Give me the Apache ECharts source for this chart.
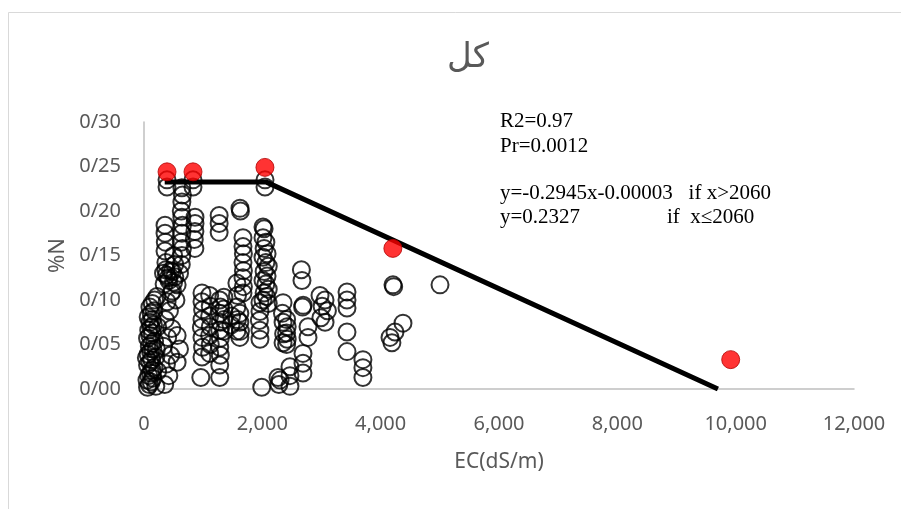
<!DOCTYPE html>
<html>
<head>
<meta charset="utf-8">
<script src="https://cdn.jsdelivr.net/npm/echarts@6/dist/echarts.min.js"></script>
<style>
  html, body { margin: 0; padding: 0; background: #fff; }
  #chart { width: 901px; height: 509px; }
</style>
</head>
<body>
<div id="chart"></div>
<script>
// [EC, %N] samples, open circles
const openSamples = [
  [60,0.002],[90,0.005],[120,0.008],[150,0.012],[80,0.015],[110,0.018],[140,0.021],[170,0.024],
  [60,0.027],[100,0.030],[130,0.033],[200,0.036],[70,0.039],[110,0.042],[150,0.045],[90,0.048],
  [130,0.051],[180,0.054],[60,0.057],[100,0.060],[140,0.063],[80,0.066],[120,0.069],[160,0.072],
  [100,0.075],[140,0.078],[70,0.081],[120,0.085],[170,0.088],[100,0.092],[140,0.096],[180,0.100],
  [220,0.104],[200,0.003],[230,0.020],[210,0.045],[40,0.035],[50,0.010],[230,0.070],
  [350,0.005],[420,0.015],[380,0.028],[450,0.038],[330,0.048],[400,0.058],[470,0.068],[360,0.078],
  [430,0.088],[390,0.098],[460,0.108],[340,0.118],[410,0.125],[480,0.132],[560,0.030],[600,0.045],
  [560,0.060],[389,0.235],[389,0.227],[355,0.184],[355,0.175],[360,0.165],[355,0.155],[370,0.142],
  [370,0.134],[330,0.130],[380,0.128],[450,0.133],[520,0.126],[600,0.130],[420,0.122],[500,0.120],
  [500,0.150],[520,0.140],[480,0.110],[540,0.100],[560,0.117],
  [640,0.226],[650,0.218],[640,0.210],[630,0.200],[640,0.193],[650,0.184],[640,0.175],[630,0.165],
  [650,0.158],[640,0.150],[630,0.140],[828,0.235],[828,0.227],[862,0.193],[862,0.186],[860,0.177],
  [850,0.168],[860,0.158],
  [980,0.108],[980,0.098],[990,0.089],[980,0.078],[970,0.069],[980,0.058],[990,0.047],[980,0.036],
  [960,0.013],[1110,0.105],[1120,0.093],[1110,0.082],[1120,0.070],[1110,0.060],[1120,0.050],[1110,0.040],
  [1280,0.100],[1290,0.092],[1280,0.085],[1290,0.075],[1280,0.066],[1290,0.057],[1280,0.047],[1290,0.038],
  [1280,0.027],[1280,0.013],[1270,0.195],[1270,0.186],[1270,0.176],[1350,0.103],[1350,0.090],[1350,0.078],
  [1350,0.065],[1480,0.082],[1470,0.072],
  [1570,0.119],[1580,0.105],[1570,0.092],[1580,0.078],[1570,0.065],[1622,0.203],[1630,0.200],
  [1620,0.085],[1620,0.075],[1630,0.065],[1620,0.058],[1673,0.170],[1673,0.160],[1680,0.152],[1673,0.142],
  [1680,0.133],[1673,0.125],[1680,0.115],[1673,0.108],
  [1960,0.097],[1960,0.087],[1950,0.077],[1960,0.066],[1960,0.056],[2045,0.235],[2045,0.227],[2011,0.182],
  [2030,0.180],[2011,0.170],[2060,0.165],[2030,0.158],[2080,0.152],[2011,0.148],[2060,0.142],[2100,0.138],
  [2030,0.132],[2080,0.127],[2011,0.122],[2060,0.118],[2100,0.112],[2030,0.108],[2070,0.104],[2011,0.100],
  [2100,0.096],[1990,0.002],
  [2350,0.097],[2340,0.085],[2350,0.075],[2360,0.062],[2350,0.052],[2410,0.078],[2420,0.070],[2410,0.063],
  [2420,0.056],[2410,0.050],[2265,0.013],[2280,0.005],[2300,0.010],[2467,0.025],[2467,0.015],[2467,0.003],
  [2660,0.134],[2670,0.122],[2680,0.092],[2690,0.094],[2772,0.070],[2772,0.058],[2687,0.040],[2687,0.029],
  [2687,0.018],[2975,0.105],[3060,0.100],[3010,0.093],[3100,0.088],[2990,0.080],[3060,0.075],
  [3431,0.109],[3431,0.100],[3431,0.091],[3431,0.064],[3431,0.042],[3700,0.033],[3700,0.024],[3700,0.013],
  [4208,0.117],[4220,0.115],[4377,0.074],[4242,0.064],[4158,0.058],[4190,0.052],[5003,0.117]
];

// boundary points (red)
const redSamples = [[389,0.244],[828,0.244],[2044,0.249],[4206,0.158],[9916,0.033]];

// piecewise fit: flat 0.2327 up to 2060, then decline
const fitLine = [[350,0.2327],[2060,0.2327],[9700,0]];

const xTicks = { min: 0, max: 12000, step: 2000 };
const yTicks = { min: 0, max: 0.3, step: 0.05 };

const notes = [
  { text: "R2=0.97", x: 500, y: 111 },
  { text: "Pr=0.0012", x: 500, y: 136 },
  { text: "y=-0.2945x-0.00003   if x>2060", x: 500, y: 183 },
  { text: "y=0.2327", x: 500, y: 207 },
  { text: "if  x≤2060", x: 667, y: 207 }
];

let myChart = echarts.init(document.getElementById("chart"));
let option = {
  backgroundColor: "#fff",
  animation: false,
  title: {
    text: "کل",
    left: 463,
    top: 36,
    textAlign: "center",
    textStyle: { fontFamily: "DejaVu Sans", fontSize: 34, fontWeight: "normal", color: "#595959" }
  },
  grid: { left: 144, right: 47, top: 122, bottom: 120 },
  xAxis: {
    type: "value",
    min: xTicks.min, max: xTicks.max, interval: xTicks.step,
    name: "EC(dS/m)",
    nameLocation: "middle",
    nameGap: 63,
    nameTextStyle: { fontFamily: "Noto Sans", fontSize: 21, color: "#595959" },
    axisLine: { show: true, lineStyle: { color: "#bfbfbf", width: 1.5 } },
    axisTick: { show: false },
    splitLine: { show: false },
    axisLabel: {
      margin: 25,
      fontFamily: "Noto Sans", fontSize: 20, color: "#595959",
      formatter: v => v.toLocaleString("en-US")
    }
  },
  yAxis: {
    type: "value",
    min: yTicks.min, max: yTicks.max, interval: yTicks.step,
    name: "%N",
    nameLocation: "middle",
    nameGap: 74,
    nameTextStyle: { fontFamily: "Noto Sans", fontSize: 22, color: "#595959" },
    axisLine: { show: true, lineStyle: { color: "#bfbfbf", width: 1.5 } },
    axisTick: { show: false },
    splitLine: { show: false },
    axisLabel: {
      margin: 23,
      fontFamily: "Noto Sans", fontSize: 20, color: "#595959",
      formatter: v => v.toFixed(2).replace(".", "/")
    }
  },
  graphic: [
    { type: "rect", silent: true, z: -1,
      shape: { x: 8.5, y: 12.5, width: 1000, height: 600 },
      style: { fill: "none", stroke: "#d9d9d9", lineWidth: 1 } }
  ].concat(notes.map(n => ({
    type: "text", left: n.x, top: n.y, silent: true,
    style: { text: n.text, font: "21px 'Liberation Serif'", fill: "#000" }
  }))),
  series: [
    {
      name: "samples",
      type: "scatter",
      symbol: "circle",
      symbolSize: 17,
      itemStyle: { color: "rgba(0,0,0,0)", borderColor: "#000", borderWidth: 2 },
      data: openSamples,
      z: 2
    },
    {
      name: "fit",
      type: "line",
      showSymbol: false,
      lineStyle: { color: "#000", width: 5 },
      data: fitLine,
      z: 3
    },
    {
      name: "boundary",
      type: "scatter",
      symbol: "circle",
      symbolSize: 18,
      itemStyle: { color: "#ff0000", borderColor: "#b00000", borderWidth: 1 },
      data: redSamples,
      z: 4
    }
  ]
};

myChart.setOption(option);
</script>
</body>
</html>
